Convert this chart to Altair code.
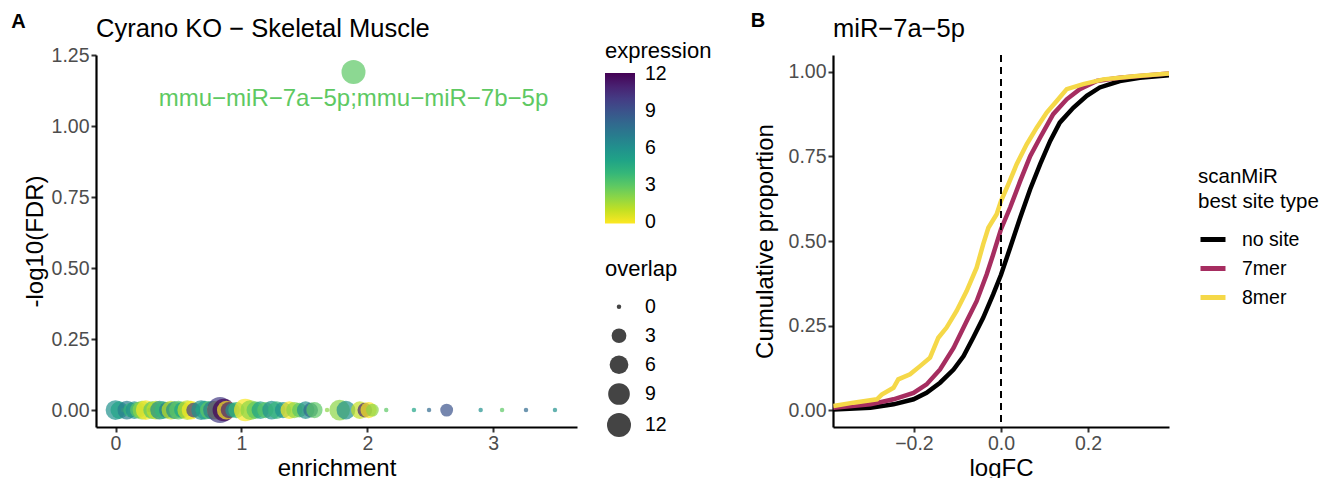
import altair as alt
import pandas as pd

FONT = "Liberation Sans"

# ---------------- Panel A data ----------------
enrichment = [0.00, 0.03, 0.06, 0.09, 0.12, 0.15, 0.18, 0.21, 0.24, 0.27,
              0.29, 0.32, 0.35, 0.38, 0.41, 0.44, 0.47, 0.50, 0.53, 0.57,
              0.60, 0.62, 0.65, 0.68, 0.71, 0.74, 0.77, 0.80, 0.83, 0.86,
              0.88, 0.90, 0.93, 0.96, 1.03, 1.07, 1.11, 1.15, 1.19, 1.24,
              1.28, 1.33, 1.38, 1.42, 1.46, 1.51, 1.55, 1.58, 1.68, 1.78,
              1.83, 1.94, 1.98, 2.01, 2.04, 2.15, 2.37, 2.49, 2.63, 2.90,
              3.07, 3.26, 3.49, 1.89]
neg_log10_fdr = [0.0] * 63 + [1.19]
expression = [6, 5, 3, 7, 4, 6, 3, 2, 0, 8,
              3, 1, 6, 4, 7, 1, 6, 3, 5, 1,
              0, 10, 3, 6, 5, 3, 7, 1, 10, 12,
              0, 11, 6, 4, 0, 2, 3, 5, 3, 6,
              4, 6, 0, 2, 3, 6, 8, 3, 2, 2,
              6, 1, 11, 0, 2, 3, 5, 8, 9, 6,
              3, 8, 6, 3]
overlap = [7, 5, 0, 6, 3, 5, 4, 6, 7, 0,
           5, 6, 6, 5, 4, 6, 5, 6, 4, 7,
           6, 3, 0, 7, 6, 5, 6, 6, 15, 10,
           6, 4, 3, 4, 10, 7, 5, 5, 4, 6,
           5, 4, 5, 4, 3, 5, 3, 4, 0, 8,
           6, 5, 3, 4, 2, 0, 0, 0, 2, 0,
           0, 0, 0, 12]

label_text = ["mmu\u2212miR\u22127a\u22125p;mmu\u2212miR\u22127b\u22125p"]
label_x = [1.89]
label_y = [1.095]

expr_ticks = [0, 3, 6, 9, 12]
overlap_ticks = [0, 3, 6, 9, 12]

# ---------------- Panel B data ----------------
nosite_logfc = [-0.385, -0.30, -0.247, -0.201, -0.171, -0.14, -0.109, -0.086, -0.064, -0.041,
                -0.018, 0.0, 0.021, 0.044, 0.067, 0.09, 0.113, 0.135, 0.166, 0.197,
                0.227, 0.273, 0.319, 0.386]
nosite_cum = [0.002, 0.007, 0.017, 0.032, 0.051, 0.081, 0.12, 0.16, 0.214, 0.273,
              0.342, 0.40, 0.48, 0.569, 0.653, 0.727, 0.796, 0.85, 0.894, 0.929,
              0.954, 0.973, 0.983, 0.99]

mer7_logfc = [-0.385, -0.30, -0.247, -0.201, -0.171, -0.14, -0.109, -0.079, -0.056, -0.033,
              -0.018, 0.0, 0.021, 0.044, 0.067, 0.09, 0.12, 0.151, 0.181, 0.22,
              0.273, 0.386]
mer7_cum = [0.007, 0.017, 0.032, 0.051, 0.076, 0.12, 0.184, 0.263, 0.322, 0.401,
            0.46, 0.535, 0.599, 0.677, 0.751, 0.806, 0.875, 0.919, 0.949, 0.973,
            0.983, 0.995]

mer8_logfc = [-0.385, -0.339, -0.285, -0.274, -0.247, -0.236, -0.209, -0.186, -0.163, -0.144,
              -0.125, -0.102, -0.079, -0.056, -0.041, -0.029, -0.01, 0.0, 0.017, 0.036,
              0.059, 0.082, 0.105, 0.128, 0.151, 0.189, 0.235, 0.312, 0.386]
mer8_cum = [0.012, 0.022, 0.032, 0.046, 0.066, 0.091, 0.106, 0.13, 0.155, 0.214,
            0.244, 0.293, 0.352, 0.421, 0.49, 0.539, 0.579, 0.618, 0.668, 0.727,
            0.786, 0.835, 0.88, 0.914, 0.949, 0.964, 0.978, 0.988, 0.995]

site_types = ["no site", "7mer", "8mer"]
site_colors = ["#000000", "#A62D60", "#F5D848"]

# ---------------- build tables ----------------
df_a = pd.DataFrame({"enrichment": enrichment, "fdr": neg_log10_fdr,
                     "expression": expression, "overlap": overlap})
df_lab = pd.DataFrame({"x": label_x, "y": label_y, "t": label_text})

rows = []
for name, xs, ys in [("no site", nosite_logfc, nosite_cum),
                     ("7mer", mer7_logfc, mer7_cum),
                     ("8mer", mer8_logfc, mer8_cum)]:
    for a, b in zip(xs, ys):
        rows.append({"logFC": a, "cum": b, "type": name})
df_b = pd.DataFrame(rows)

W_A, H = 481, 372
W_B = 336

# ---------------- Panel A ----------------
xa = alt.X("enrichment:Q",
           scale=alt.Scale(domain=[-0.155, 3.665], nice=False, zero=False),
           axis=alt.Axis(values=[0, 1, 2, 3], format="d", title="enrichment",
                         titleX=W_A / 2, titleY=48, titleBaseline="alphabetic"))
ya = alt.Y("fdr:Q",
           scale=alt.Scale(domain=[-0.0595, 1.25], nice=False, zero=False),
           axis=alt.Axis(values=[0, 0.25, 0.5, 0.75, 1.0, 1.25], format=".2f",
                         title="-log10(FDR)", titleX=-61, titleY=H / 2,
                         titleBaseline="middle", titleAngle=-90))

points = alt.Chart(df_a).mark_circle(fillOpacity=0.7, strokeWidth=0).encode(
    x=xa, y=ya,
    color=alt.Color("expression:Q",
                    scale=alt.Scale(scheme="viridis", reverse=True, domain=[-0.1, 12.1]),
                    legend=alt.Legend(orient="none", legendX=509, legendY=-14,
                                      type="gradient",
                                      title="expression", values=expr_ticks,
                                      gradientLength=150.5, gradientThickness=30,
                                      gradientOpacity=1,
                                      titlePadding=10, labelOffset=10,
                                      direction="vertical")),
    size=alt.Size("overlap:Q",
                  scale=alt.Scale(type="pow", exponent=0.75, domain=[0, 12],
                                  range=[20, 576]),
                  legend=alt.Legend(orient="none", legendX=509, legendY=204,
                                    title="overlap", values=overlap_ticks,
                                    symbolFillColor="#444444", symbolOpacity=1,
                                    symbolStrokeWidth=0, symbolType="circle",
                                    symbolOffset=2,
                                    rowPadding=8, titlePadding=16, labelOffset=14)),
)

label = alt.Chart(df_lab).mark_text(fontSize=24, color="#5EC962", font=FONT).encode(
    x=alt.X("x:Q"), y=alt.Y("y:Q"), text="t:N")

title_a = alt.Chart(pd.DataFrame({"t": ["Cyrano KO \u2212 Skeletal Muscle"]})).mark_text(
    fontSize=25.5, align="left", baseline="alphabetic", font=FONT, color="black"
).encode(x=alt.value(0), y=alt.value(-18), text="t:N")

tag_a = alt.Chart(pd.DataFrame({"t": ["A"]})).mark_text(
    fontSize=20, fontWeight="bold", align="center", baseline="middle", font=FONT, color="black"
).encode(x=alt.value(-77.5), y=alt.value(-33), text="t:N")

left = alt.layer(points, label, title_a, tag_a).properties(width=W_A, height=H)

# ---------------- Panel B ----------------
xb = alt.X("logFC:Q",
           scale=alt.Scale(domain=[-0.386, 0.386], nice=False, zero=False),
           axis=alt.Axis(values=[-0.2, 0.0, 0.2], format=".1f", title="logFC",
                         titleX=W_B / 2, titleY=48, titleBaseline="alphabetic"))
yb = alt.Y("cum:Q",
           scale=alt.Scale(domain=[-0.05, 1.05], nice=False, zero=False),
           axis=alt.Axis(values=[0, 0.25, 0.5, 0.75, 1.0], format=".2f",
                         title="Cumulative proportion", titleX=-68, titleY=H / 2,
                         titleBaseline="middle", titleAngle=-90))
cb = alt.Color("type:N",
               scale=alt.Scale(domain=site_types, range=site_colors),
               legend=alt.Legend(orient="none", legendX=365, legendY=112,
                                 title=["scanMiR", "best site type"],
                                 titleFontSize=20.5,
                                 titleLineHeight=25, symbolType="stroke",
                                 symbolStrokeWidth=5, symbolSize=625,
                                 rowPadding=4, titlePadding=12, labelOffset=14))

lines = [alt.Chart(df_b).transform_filter(alt.datum.type == s)
         .mark_line(strokeWidth=4.5, clip=True).encode(x=xb, y=yb, color=cb)
         for s in site_types]

vline = alt.Chart(pd.DataFrame({"x0": [0.0]})).mark_rule(
    color="black", strokeWidth=2, strokeDash=[7, 5]).encode(x="x0:Q")

title_b = alt.Chart(pd.DataFrame({"t": ["miR\u22127a\u22125p"]})).mark_text(
    fontSize=25.5, align="left", baseline="alphabetic", font=FONT, color="black"
).encode(x=alt.value(0), y=alt.value(-18), text="t:N")

tag_b = alt.Chart(pd.DataFrame({"t": ["B"]})).mark_text(
    fontSize=20, fontWeight="bold", align="center", baseline="middle", font=FONT, color="black"
).encode(x=alt.value(-75), y=alt.value(-34), text="t:N")

right = alt.layer(*lines, vline, title_b, tag_b).properties(width=W_B, height=H)

chart = alt.hconcat(left, right, spacing=256, bounds="flush").resolve_scale(
    color="independent", size="independent", x="independent", y="independent"
).resolve_legend(color="independent", size="independent").properties(
    padding={"left": 3, "top": 3, "right": 0, "bottom": 0}
).configure_view(stroke=None).configure_axis(
    labelFont=FONT, labelFontSize=19.5, labelColor="#4D4D4D",
    titleFont=FONT, titleFontSize=24, titleColor="black", titleFontWeight="normal",
    domainColor="black", domainWidth=2.2, tickColor="#333333", tickWidth=2,
    tickSize=5, labelPadding=2, grid=False
).configure_legend(
    labelFont=FONT, labelFontSize=19.5, labelColor="black",
    titleFont=FONT, titleFontSize=22, titleColor="black", titleFontWeight="normal",
    padding=0
).configure_text(font=FONT)

chart.save("out.html", embed_options={"renderer": "svg", "actions": False})
